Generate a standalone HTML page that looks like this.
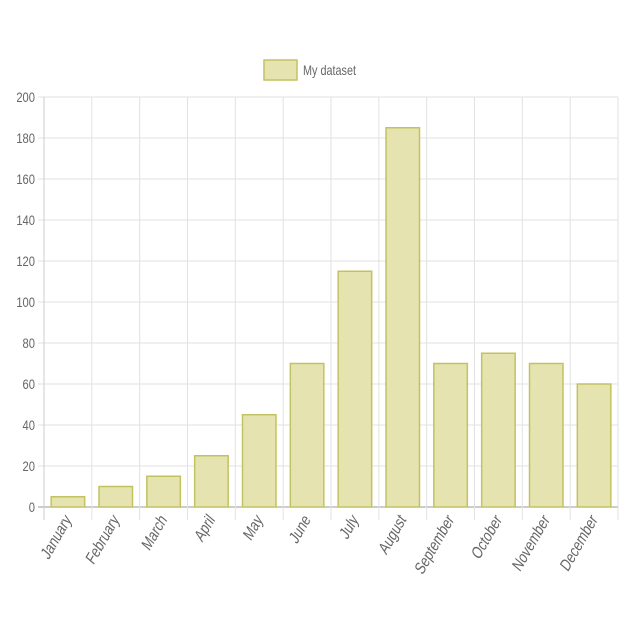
<!DOCTYPE html>
<html><head><meta charset="utf-8"><style>
html,body{margin:0;padding:0;background:#fff;}
svg{display:block;font-family:"Liberation Sans",sans-serif;}
</style></head><body>
<svg id="chart" width="640" height="640">
<g id="legend">
<rect x="264" y="60" width="33" height="20" fill="#e5e4b0" stroke="#c3c260" stroke-width="1.5"/>
<text x="303" y="75" font-size="14" fill="#666" textLength="53" lengthAdjust="spacingAndGlyphs">My dataset</text>
</g>
<g id="grid"></g><g id="bars"></g><g id="labels"></g>
</svg>
<script>
const categories=["January","February","March","April","May","June","July","August","September","October","November","December"];
const values=[5,10,15,25,45,70,115,185,70,75,70,60];
const yTicks=[0,20,40,60,80,100,120,140,160,180,200];
const NS="http://www.w3.org/2000/svg";
const L=44,R=618,T=97,B=507,yMax=200;
const cw=(R-L)/categories.length;
function y(v){return B-(v/yMax)*(B-T);}
function x(i){return L+i*cw;}
function mk(tag,attrs,parent){const e=document.createElementNS(NS,tag);for(const k in attrs)e.setAttribute(k,attrs[k]);parent.appendChild(e);return e;}
const grid=document.getElementById('grid'),bars=document.getElementById('bars'),labels=document.getElementById('labels');
yTicks.forEach(t=>{
 const ln=mk('line',{x1:38,x2:R,y1:y(t),y2:y(t),stroke:t===0?'#999':'#e2e2e2','stroke-width':1},grid);
 
 
 const tx=mk('text',{x:35,y:y(t)+5,'text-anchor':'end','font-size':14,fill:'#666',transform:`translate(35 0) scale(0.8 1) translate(-35 0)`},labels);
 tx.textContent=t;
 
 
});
for(let i=0;i<=categories.length;i++){
 const ln=mk('line',{x1:x(i),x2:x(i),y1:T,y2:B+13,stroke:i===0?'#ccc':'#e2e2e2','stroke-width':1},grid);
 
 
}
categories.forEach((c,i)=>{
 const bw=cw*0.7,bx=x(i)+(cw-bw)/2;
 const r=mk('rect',{x:bx,y:y(values[i]),width:bw,height:B-y(values[i]),fill:'#e5e4b0',stroke:'#c3c260','stroke-width':1.5},bars);
 
 
 const cx=x(i)+cw/2+4,cy=B+13;
 const tx=mk('text',{x:0,y:0,'text-anchor':'end','font-size':16,fill:'#666',transform:`translate(${cx} ${cy}) rotate(-60) scale(0.82 1) skewX(-12)`},labels);
 tx.textContent=c;
 
 
});
</script>
</body></html>
